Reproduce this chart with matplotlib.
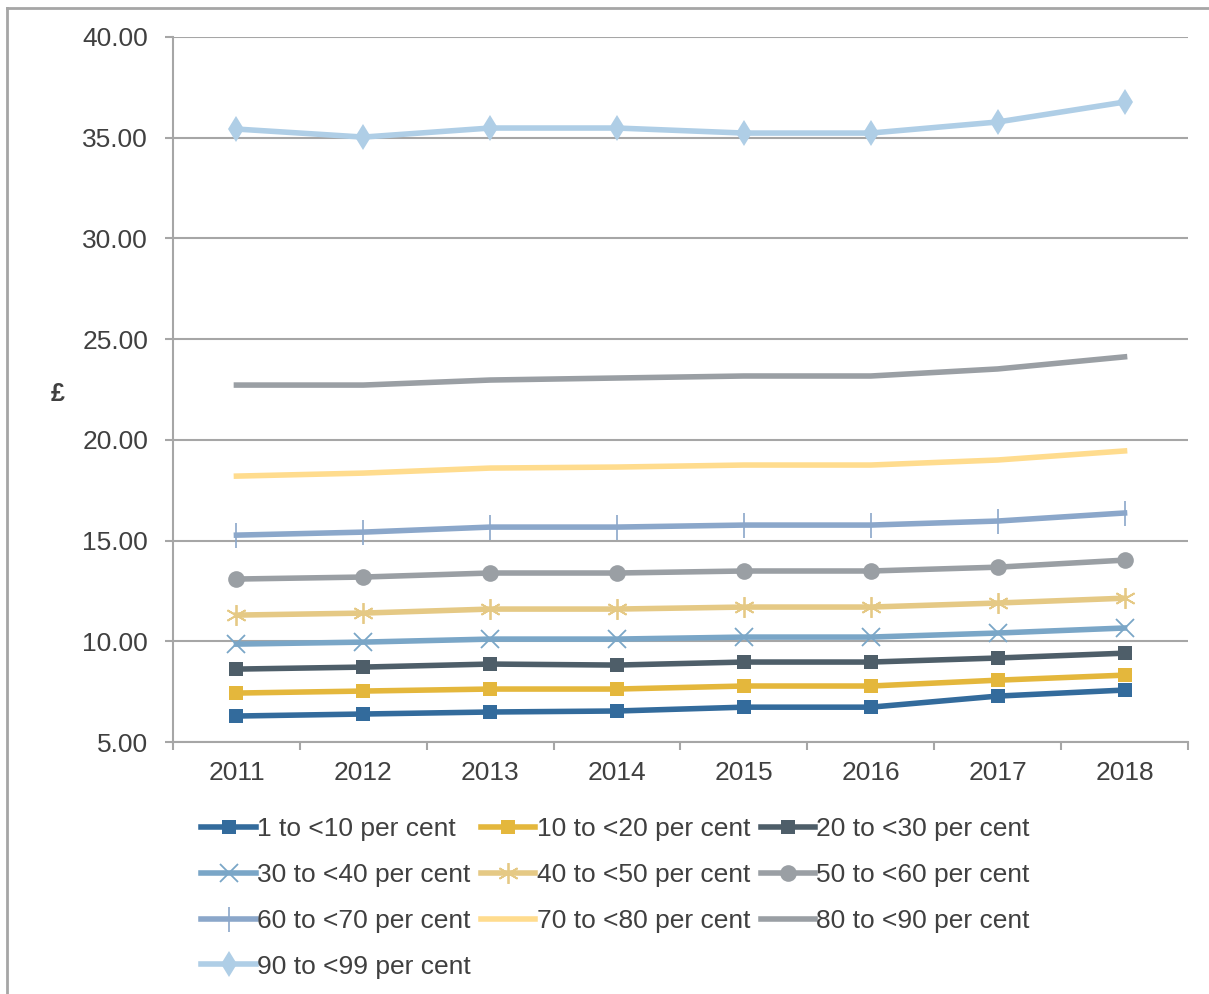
import matplotlib.pyplot as plt
from matplotlib.lines import Line2D
import numpy as np

plt.rcParams['font.family'] = ['Liberation Sans', 'DejaVu Sans']

years = ['2011', '2012', '2013', '2014', '2015', '2016', '2017', '2018']

band_1_10 = [6.29, 6.39, 6.49, 6.54, 6.73, 6.73, 7.28, 7.58]
band_10_20 = [7.43, 7.53, 7.63, 7.63, 7.78, 7.78, 8.07, 8.32]
band_20_30 = [8.62, 8.72, 8.87, 8.82, 8.97, 8.97, 9.17, 9.41]
band_30_40 = [9.86, 9.96, 10.11, 10.11, 10.21, 10.21, 10.41, 10.66]
band_40_50 = [11.30, 11.40, 11.60, 11.60, 11.70, 11.70, 11.90, 12.14]
band_50_60 = [13.09, 13.19, 13.39, 13.39, 13.49, 13.49, 13.68, 14.03]
band_60_70 = [15.27, 15.42, 15.67, 15.67, 15.77, 15.77, 15.97, 16.37]
band_70_80 = [18.20, 18.35, 18.60, 18.65, 18.75, 18.75, 19.00, 19.45]
band_80_90 = [22.72, 22.72, 22.97, 23.07, 23.17, 23.17, 23.52, 24.12]
band_90_99 = [35.43, 35.03, 35.48, 35.48, 35.23, 35.23, 35.78, 36.77]

labels = ['1 to <10 per cent', '10 to <20 per cent', '20 to <30 per cent',
          '30 to <40 per cent', '40 to <50 per cent', '50 to <60 per cent',
          '60 to <70 per cent', '70 to <80 per cent', '80 to <90 per cent',
          '90 to <99 per cent']
series = [band_1_10, band_10_20, band_20_30, band_30_40, band_40_50,
          band_50_60, band_60_70, band_70_80, band_80_90, band_90_99]

# стилі ліній як в Excel
colors = ['#336B9C', '#E4B73C', '#4E5E69', '#7AA6C7', '#E5C985',
          '#9A9FA4', '#8BA7CA', '#FFDC8E', '#9A9FA4', '#AFCEE6']
markers = ['s', 's', 's', 'x', (6, 2, 0), 'o', '|', None, None, 'd']
msizes = [10.5, 10.5, 10.5, 13, 15, 12, 18, 0, 0, 13]
medges = [0, 0, 0, 1.3, 1.3, 0, 1.2, 0, 0, 0]

fig = plt.figure(figsize=(12.09, 9.94), dpi=100)
ax = fig.add_axes([0.1431, 0.2535, 0.8395, 0.7093])

x = np.arange(len(years))
handles = []
for vals, lab, c, m, ms, me in zip(series, labels, colors, markers, msizes, medges):
    h, = ax.plot(x, vals, color=c, lw=4, marker=m, markersize=ms,
                 markeredgewidth=me, markeredgecolor=c, markerfacecolor=c,
                 solid_joinstyle='round', label=lab, zorder=3)
    handles.append(h)

ax.set_xlim(-0.5, 7.5)
ax.set_ylim(5, 40)
ax.set_yticks(np.arange(5, 41, 5))
ax.set_yticklabels(['%.2f' % v for v in np.arange(5, 41, 5)])
ax.grid(axis='y', color='#A6A6A6', lw=1.5, zorder=0)

ax.set_xticks(x)
ax.set_xticklabels(years)
ax.set_xticks(np.arange(-0.5, 8, 1), minor=True)
ax.tick_params(axis='x', which='major', length=0, pad=14, labelsize=19, labelcolor='#404040')
ax.tick_params(axis='x', which='minor', length=6, width=1.5, color='#A6A6A6', direction='out')
ax.tick_params(axis='y', length=6, width=1.5, color='#A6A6A6', pad=12,
               labelsize=19, labelcolor='#404040')

for s in ['top', 'right']:
    ax.spines[s].set_visible(False)
for s in ['left', 'bottom']:
    ax.spines[s].set_color('#A6A6A6')
    ax.spines[s].set_linewidth(1.5)

fig.text(0.048, 0.604, '£', fontsize=18, fontweight='bold', color='#404040',
         ha='center', va='center')

# легенда заповнюється по рядках, тому переставляємо
order = [0, 3, 6, 9, 1, 4, 7, 2, 5, 8]
fig.legend(handles=[handles[i] for i in order], loc='upper left',
           bbox_to_anchor=(0.147, 0.202), ncol=3, frameon=False, fontsize=19,
           handlelength=2.05, handletextpad=0.05, columnspacing=0.4,
           labelspacing=0.83, labelcolor='#404040')

# рамка зліва і зверху
fig.add_artist(Line2D([0.006, 0.006], [0, 0.992], color='#A6A6A6', lw=2))
fig.add_artist(Line2D([0.006, 1], [0.992, 0.992], color='#A6A6A6', lw=2))

fig.savefig('out.png', dpi=100)
